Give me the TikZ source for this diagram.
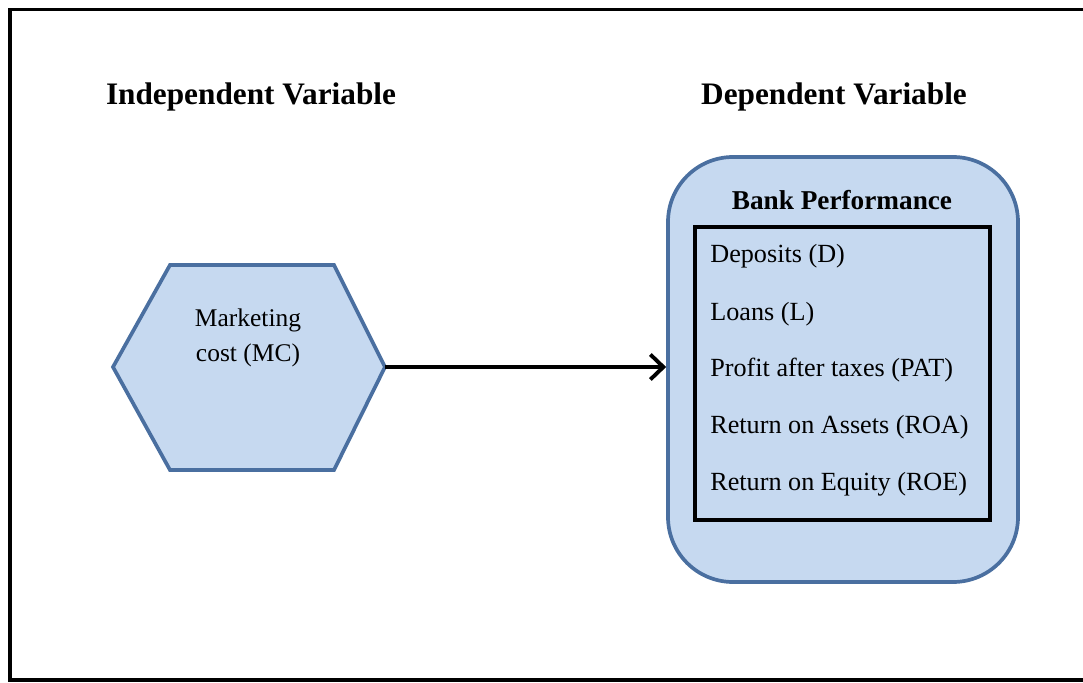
\documentclass[tikz,border=0pt]{standalone}
\usepackage{fontspec}
\usepackage{xcolor}
\usepackage{tikz}
\usetikzlibrary{arrows.meta}
\setmainfont{Liberation Serif}
\def\width{21.66}
\def\hauteur{13.64}
\definecolor{boxfill}{HTML}{C6D9F0}
\definecolor{boxline}{HTML}{4A6FA0}

\begin{document}
\begin{tikzpicture}[x=1cm, y=1cm,
    headtext/.style={font=\bfseries\fontsize{17.8}{20}\selectfont},
    plaintext/.style={font=\fontsize{14.5}{19.5}\selectfont, inner sep=0pt},
    shapeline/.style={draw=boxline, line width=2.1pt, fill=boxfill},
    arrowline/.style={line width=2.3pt, -{Straight Barb[length=2.6mm, width=5mm, line width=2.2pt]}}]
\useasboundingbox (0,0) rectangle (\width,\hauteur);
%\draw[step=1cm, line width=0.1mm, black!30!white] (0,0) grid (\width,\hauteur);
\draw[line width=2.2pt] (22.5,13.45) -- (0.2,13.45) -- (0.2,0.04) -- (22.5,0.04);

    \node[headtext] (indep) at (5.02,11.70) {Independent Variable};
    \node[headtext] (dep) at (16.68,11.70) {Dependent Variable};

    \coordinate (h1) at (2.26,6.30);
    \coordinate (h2) at (3.40,8.34);
    \coordinate (h3) at (6.68,8.34);
    \coordinate (h4) at (7.70,6.30);
    \coordinate (h5) at (6.68,4.24);
    \coordinate (h6) at (3.40,4.24);
    \draw[shapeline] (h1) -- (h2) -- (h3) -- (h4) -- (h5) -- (h6) -- cycle;
    \node[plaintext, align=center] (mc) at (4.96,6.88) {Marketing\\cost (MC)};

    \node[shapeline, rounded corners=1.3cm, minimum width=7cm, minimum height=8.5cm] (perf) at (16.86,6.25) {};
    \node[font=\bfseries\fontsize{15.5}{18}\selectfont] (bank) at (16.84,9.64) {Bank Performance};
    \node[draw, line width=2.2pt, minimum width=5.9cm, minimum height=5.86cm] (list) at (16.85,6.17) {};

    \node[plaintext, font=\fontsize{14.9}{18}\selectfont, anchor=west] (dd) at (14.2,8.52) {Deposits (D)};
    \node[plaintext, font=\fontsize{14.9}{18}\selectfont, anchor=west] (ll) at (14.2,7.36) {Loans (L)};
    \node[plaintext, font=\fontsize{14.9}{18}\selectfont, anchor=west] (pat) at (14.2,6.24) {Profit after taxes (PAT)};
    \node[plaintext, font=\fontsize{14.9}{18}\selectfont, anchor=west] (roa) at (14.2,5.10) {Return on Assets (ROA)};
    \node[plaintext, font=\fontsize{14.9}{18}\selectfont, anchor=west] (roe) at (14.2,3.96) {Return on Equity (ROE)};

\draw[arrowline] (h4) -- (h4 -| perf.west);

\end{tikzpicture}
\end{document}
